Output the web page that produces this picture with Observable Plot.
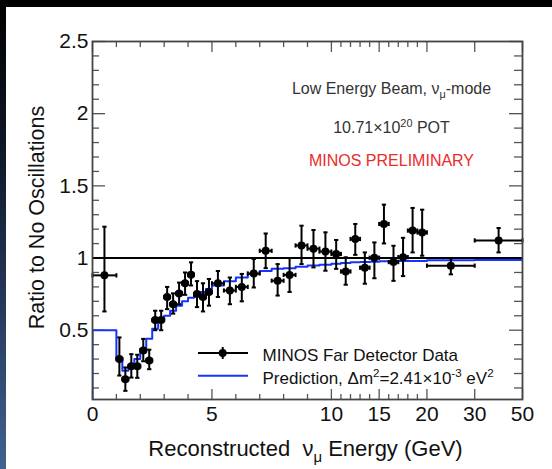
<!DOCTYPE html>
<html><head><meta charset="utf-8">
<script src="https://cdn.jsdelivr.net/npm/d3@7"></script>
<script src="https://cdn.jsdelivr.net/npm/@observablehq/plot@0.6"></script>
<style>
html,body{margin:0;padding:0;background:#000;}
#wrap{position:relative;width:552px;height:469px;overflow:hidden;background:#000;}
#strip{position:absolute;left:0;top:0;width:6px;height:469px;background:linear-gradient(to bottom,#000 0%,#0e1626 30%,#26395c 65%,#41628f 100%);}
#chart{position:absolute;left:6px;top:7px;width:546px;height:462px;background:#fff;}
</style></head>
<body><div id="wrap"><div id="strip"></div><div id="chart"></div></div>
<script>
// ---- data ----
const binEdges = [0, 1, 1.25, 1.5, 1.75, 2, 2.25, 2.5, 2.75, 3, 3.25, 3.5, 3.75, 4, 4.25, 4.5, 4.75, 5,
  5.5, 6, 6.5, 7, 7.5, 8, 8.5, 9, 9.5, 10, 11, 12, 13, 14, 15, 16, 17, 18, 19, 20, 30, 50];
const ratio = [0.88, 0.30, 0.16, 0.25, 0.25, 0.36, 0.29, 0.57, 0.57, 0.73, 0.68, 0.755, 0.825, 0.885, 0.75, 0.73, 0.765,
  0.825, 0.775, 0.80, 0.893, 1.05, 0.843, 0.883, 1.087, 1.065, 1.045,
  1.028, 0.907, 1.132, 0.933, 1.002, 1.236, 0.972, 1.006, 1.19, 1.177, 0.947, 1.122];
const ratioLow = [0.63, 0.186, 0.08, 0.172, 0.17, 0.285, 0.23, 0.50, 0.50, 0.646, 0.615, 0.68, 0.745, 0.81, 0.66, 0.63, 0.67,
  0.73, 0.68, 0.70, 0.796, 0.93, 0.74, 0.765, 0.958, 0.935, 0.912,
  0.925, 0.815, 1.022, 0.822, 0.86, 1.101, 0.842, 0.875, 1.039, 1.016, 0.887, 1.039];
const ratioHigh = [1.217, 0.45, 0.242, 0.334, 0.33, 0.44, 0.365, 0.635, 0.635, 0.80, 0.755, 0.83, 0.90, 0.97, 0.84, 0.825, 0.855,
  0.91, 0.865, 0.89, 0.993, 1.17, 0.958, 1.0, 1.224, 1.194, 1.178,
  1.125, 1.005, 1.236, 1.039, 1.108, 1.37, 1.085, 1.14, 1.347, 1.335, 0.998, 1.208];
const prediction = [0.50, 0.305, 0.22, 0.25, 0.30, 0.37, 0.44, 0.51, 0.565, 0.60, 0.635, 0.67, 0.70, 0.725, 0.745, 0.765, 0.785,
  0.81, 0.84, 0.865, 0.89, 0.91, 0.925, 0.93, 0.94, 0.948, 0.954,
  0.96, 0.965, 0.97, 0.972, 0.975, 0.977, 0.978, 0.979, 0.98, 0.98, 0.984, 0.986];
const xTickLabels = [0, 5, 10, 15, 20, 30, 50];
const xMinorTicks = [1, 2, 3, 4, 6, 7, 8, 9, 11, 12, 13, 14, 16, 17, 18, 19];
const yTickLabels = [0.5, 1, 1.5, 2, 2.5];
const yMinorTicks = d3.range(1, 25).map(i => i / 10).filter(v => !yTickLabels.includes(v));

// piecewise energy axis (0-10 linear, then compressed 10-20, 20-30, 30-50)
const ax = d3.scaleLinear().domain([0, 10, 20, 30, 50]).range([0, 10, 14, 16, 18]);

const points = ratio.map((r, i) => ({e0: binEdges[i], e1: binEdges[i + 1], ec: (binEdges[i] + binEdges[i + 1]) / 2,
  r, lo: ratioLow[i], hi: ratioHigh[i]}));
const steps = [{e: 0, p: 0}, ...prediction.map((p, i) => ({e: binEdges[i], p})), {e: 50, p: prediction[prediction.length - 1]}];

const labelMap = new Map(xTickLabels.map(t => [ax(t), String(t)]));
const H = 358, W = 430;
const tickCol = "#555";
const hCap = {draw(ctx, size) { const r = Math.sqrt(size) / 2; ctx.moveTo(-r, 0); ctx.lineTo(r, 0); }};
const vCap = {draw(ctx, size) { const r = Math.sqrt(size) / 2; ctx.moveTo(0, -r); ctx.lineTo(0, r); }};

const chart = Plot.plot({
  width: 546, height: 462,
  marginLeft: 86, marginRight: 30, marginTop: 34, marginBottom: 70,
  style: {background: "#fff", fontFamily: "'Liberation Sans', Arial, Helvetica, sans-serif", color: "#111", overflow: "visible"},
  x: {type: "linear", domain: [0, 18]},
  y: {type: "linear", domain: [0.02, 2.5]},
  marks: [
    // inward ticks on all four sides
    Plot.tickX(xTickLabels.map(ax), {x: d => d, insetTop: H - 10, stroke: tickCol, strokeWidth: 1.3}),
    Plot.tickX(xMinorTicks.map(ax), {x: d => d, insetTop: H - 5, stroke: tickCol, strokeWidth: 1.3}),
    Plot.tickX(xTickLabels.map(ax), {x: d => d, insetBottom: H - 11, stroke: tickCol, strokeWidth: 1.3}),
    Plot.tickX(xMinorTicks.map(ax), {x: d => d, insetBottom: H - 6, stroke: tickCol, strokeWidth: 1.3}),
    Plot.tickY(yTickLabels, {y: d => d, insetRight: W - 13, stroke: tickCol, strokeWidth: 1.3}),
    Plot.tickY(yMinorTicks, {y: d => d, insetRight: W - 7, stroke: tickCol, strokeWidth: 1.3}),
    Plot.tickY(yTickLabels, {y: d => d, insetLeft: W - 13, stroke: tickCol, strokeWidth: 1.3}),
    Plot.tickY(yMinorTicks, {y: d => d, insetLeft: W - 8, stroke: tickCol, strokeWidth: 1.3}),
    Plot.axisX(xTickLabels.map(ax), {tickSize: 0, tickPadding: 7, fontSize: 21, label: null, tickFormat: d => labelMap.get(d)}),
    Plot.axisY(yTickLabels, {tickSize: 0, tickPadding: 4, fontSize: 21, label: null, tickFormat: d => String(d)}),
    // no-oscillation line
    Plot.ruleY([1], {stroke: "#000", strokeWidth: 2}),
    // prediction histogram
    Plot.line(steps, {x: d => ax(d.e), y: "p", curve: "step-after", stroke: "#1433ff", strokeWidth: 2, clip: true}),
    // data with error bars
    Plot.ruleY(points, {y: "r", x1: d => ax(d.e0), x2: d => ax(d.e1), stroke: "#000", strokeWidth: 2}),
    Plot.ruleX(points, {x: d => ax(d.ec), y1: "lo", y2: "hi", stroke: "#000", strokeWidth: 2}),
    Plot.dot(points, {x: d => ax(d.ec), y: "lo", symbol: hCap, r: 2.4, fill: "none", stroke: "#000", strokeWidth: 2}),
    Plot.dot(points, {x: d => ax(d.ec), y: "hi", symbol: hCap, r: 2.4, fill: "none", stroke: "#000", strokeWidth: 2}),
    Plot.dot(points, {x: d => ax(d.e0), y: "r", symbol: vCap, r: 2.4, fill: "none", stroke: "#000", strokeWidth: 2}),
    Plot.dot(points, {x: d => ax(d.e1), y: "r", symbol: vCap, r: 2.4, fill: "none", stroke: "#000", strokeWidth: 2}),
    Plot.dot(points, {x: d => ax(d.ec), y: "r", r: 4, fill: "#000", stroke: "none"}),
    Plot.frame({stroke: "#444", strokeWidth: 1.8}),
    // annotations
    Plot.text(["Low Energy Beam, ν_{μ}-mode"], {frameAnchor: "top-left", dx: 299, dy: 47.2, textAnchor: "middle", lineAnchor: "middle", fontSize: 16, fill: "#333"}),
    Plot.text(["10.71×10^{20} POT"], {frameAnchor: "top-left", dx: 299, dy: 86.6, textAnchor: "middle", lineAnchor: "middle", fontSize: 16, fill: "#333"}),
    Plot.text(["MINOS PRELIMINARY"], {frameAnchor: "top-left", dx: 299, dy: 118.9, textAnchor: "middle", lineAnchor: "middle", fontSize: 16, fill: "#ea2b2b"}),
    // legend labels
    Plot.text(["MINOS Far Detector Data"], {frameAnchor: "top-left", dx: 170, dy: 313.6, textAnchor: "start", lineAnchor: "middle", fontSize: 17, fill: "#111"}),
    Plot.text(["Prediction, Δm^{2}=2.41×10^{-3} eV^{2}"], {frameAnchor: "top-left", dx: 170, dy: 336.9, textAnchor: "start", lineAnchor: "middle", fontSize: 17, fill: "#111"}),
    // axis titles
    Plot.text(["Reconstructed  ν_{μ} Energy (GeV)"], {frameAnchor: "bottom", dx: -2, dy: 49.3, textAnchor: "middle", lineAnchor: "middle", fontSize: 22, fill: "#111"}),
    Plot.text(["Ratio to No Oscillations"], {frameAnchor: "left", rotate: -90, dx: -55.5, dy: -3, textAnchor: "middle", lineAnchor: "middle", fontSize: 21.5, fill: "#111"})
  ]
});
document.getElementById("chart").appendChild(chart);

// legend symbols
const svg = d3.select(chart);
const lg = svg.append("g");
lg.append("line").attr("x1", 192).attr("x2", 242).attr("y1", 346).attr("y2", 346).attr("stroke", "#000").attr("stroke-width", 2);
lg.append("line").attr("x1", 216.7).attr("x2", 216.7).attr("y1", 340).attr("y2", 352).attr("stroke", "#000").attr("stroke-width", 2);
lg.append("circle").attr("cx", 216.7).attr("cy", 346).attr("r", 4).attr("fill", "#000");
lg.append("line").attr("x1", 192).attr("x2", 242).attr("y1", 368.7).attr("y2", 368.7).attr("stroke", "#1433ff").attr("stroke-width", 2);

// sub/superscripts in texts
function richify(root) {
  root.querySelectorAll("text").forEach(t => {
    const s = t.textContent;
    if (!/[_^]\{/.test(s)) return;
    const fs = parseFloat(getComputedStyle(t).fontSize) || 16;
    const parts = []; const re = /([_^])\{([^}]*)\}/g; let last = 0, m;
    while ((m = re.exec(s))) {
      if (m.index > last) parts.push({t: s.slice(last, m.index), k: 0});
      parts.push({t: m[2], k: m[1] === "_" ? 1 : -1}); last = re.lastIndex;
    }
    if (last < s.length) parts.push({t: s.slice(last), k: 0});
    while (t.firstChild) t.removeChild(t.firstChild);
    let cur = 0;
    for (const p of parts) {
      const ts = document.createElementNS("http://www.w3.org/2000/svg", "tspan");
      const target = p.k === 1 ? 0.28 * fs : p.k === -1 ? -0.4 * fs : 0;
      ts.setAttribute("dy", target - cur); cur = target;
      if (p.k) ts.setAttribute("font-size", 0.68 * fs);
      ts.setAttribute("xml:space", "preserve");
      ts.textContent = p.t;
      t.appendChild(ts);
    }
  });
}
richify(chart);
</script></body></html>
